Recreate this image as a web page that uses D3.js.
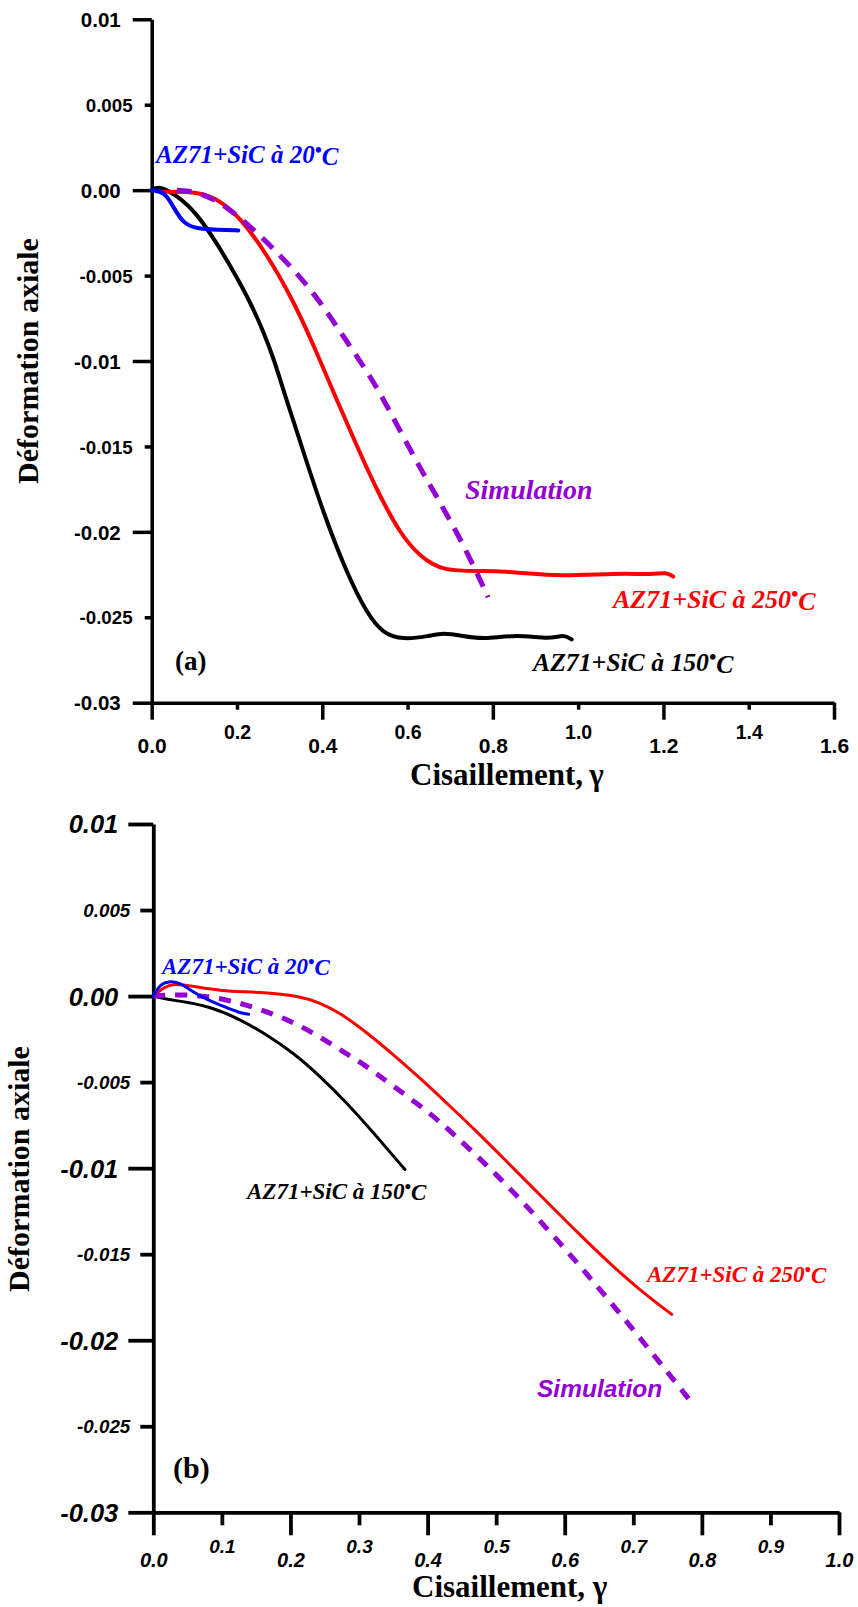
<!DOCTYPE html>
<html>
<head>
<meta charset="utf-8">
<script src="https://cdn.jsdelivr.net/npm/d3@7"></script>
<style>
  html, body { margin: 0; padding: 0; background: #fff; }
  svg { display: block; }
</style>
</head>
<body>
<svg id="chart" width="858" height="1607"></svg>
<script>
// ---------------- DATA ----------------
// Panel (a): x = Cisaillement (gamma), y = Déformation axiale
const aXTicks = [0, 0.2, 0.4, 0.6, 0.8, 1.0, 1.2, 1.4, 1.6];
const aYTicks = [0.01, 0.005, 0, -0.005, -0.01, -0.015, -0.02, -0.025, -0.03];
const aYLabels = ["0.01", "0.005", "0.00", "-0.005", "-0.01", "-0.015", "-0.02", "-0.025", "-0.03"];

const a20 = [[0,0],[0.031,-0.0001],[0.051,-0.001],[0.074,-0.00195],[0.105,-0.00226],[0.152,-0.00232],[0.203,-0.00236]];
const a150 = [[0,0],[0.016,0.00027],[0.059,-0.0003],[0.106,-0.00136],[0.153,-0.00312],[0.1906,-0.0047],[0.2293,-0.00646],[0.261,-0.00821],[0.2877,-0.00997],[0.309,-0.01173],[0.3524,-0.01506],[0.4028,-0.01893],[0.4579,-0.02244],[0.5049,-0.02479],[0.5424,-0.02596],[0.5893,-0.02631],[0.65,-0.0261],[0.684,-0.0259],[0.73,-0.0261],[0.777,-0.0263],[0.856,-0.026],[0.934,-0.0263],[0.965,-0.026],[0.985,-0.0263]];
const a250 = [[0.03,-0.0001],[0.113,-0.0001],[0.16,-0.0006],[0.207,-0.0016],[0.2696,-0.00372],[0.332,-0.00646],[0.3852,-0.00938],[0.4345,-0.01231],[0.4825,-0.01506],[0.5283,-0.01758],[0.5822,-0.0201],[0.6291,-0.02145],[0.683,-0.02232],[0.777,-0.02227],[0.856,-0.02236],[0.957,-0.02262],[1.09,-0.02242],[1.176,-0.0225],[1.207,-0.02236],[1.223,-0.02262]];
const aSim = [[0.059,0],[0.113,-0.0001],[0.1758,-0.00094],[0.25,-0.00255],[0.2968,-0.00372],[0.3414,-0.00489],[0.3845,-0.0062],[0.422,-0.00753],[0.4586,-0.0089],[0.4938,-0.0102],[0.5313,-0.01167],[0.582,-0.01407],[0.637,-0.0166],[0.66,-0.01758],[0.731,-0.0207],[0.789,-0.02383]];

// Panel (b)
const bXTicks = [0, 0.1, 0.2, 0.3, 0.4, 0.5, 0.6, 0.7, 0.8, 0.9, 1.0];
const bYTicks = [0.01, 0.005, 0, -0.005, -0.01, -0.015, -0.02, -0.025, -0.03];
const bYLabels = ["0.01", "0.005", "0.00", "-0.005", "-0.01", "-0.015", "-0.02", "-0.025", "-0.03"];

const b20 = [[0,0],[0.01,0.00068],[0.022,0.00087],[0.039,0.00078],[0.058,0.00023],[0.078,-0.0002],[0.107,-0.00068],[0.126,-0.00097],[0.139,-0.00106]];
const b150 = [[0,0],[0.0195,-0.00019],[0.049,-0.00035],[0.0875,-0.00068],[0.126,-0.00135],[0.165,-0.00223],[0.204,-0.00329],[0.243,-0.00465],[0.282,-0.0062],[0.321,-0.00794],[0.367,-0.01008]];
const b250 = [[0,0],[0.015,0.00049],[0.029,0.00074],[0.058,0.00058],[0.097,0.00029],[0.156,0.00023],[0.214,0],[0.243,-0.00039],[0.272,-0.00097],[0.311,-0.0021],[0.35,-0.0034],[0.39,-0.0048],[0.43,-0.0063],[0.47,-0.0078],[0.51,-0.0094],[0.56,-0.0114],[0.62,-0.0138],[0.67,-0.0157],[0.71,-0.0171],[0.756,-0.0185]];
const bSim = [[0,0],[0.039,0.0001],[0.078,0],[0.117,-0.0003],[0.156,-0.00077],[0.195,-0.00135],[0.233,-0.00213],[0.272,-0.0031],[0.311,-0.00407],[0.35,-0.00523],[0.4035,-0.0068],[0.4375,-0.008],[0.491,-0.01],[0.54,-0.012],[0.593,-0.01435],[0.642,-0.0166],[0.69,-0.0189],[0.739,-0.02131],[0.7875,-0.02374]];

// ---------------- DRAW ----------------
const svg = d3.select("#chart");
const SANS = "'Liberation Sans', Arial, sans-serif";
const SERIF = "'Liberation Serif', 'Times New Roman', Times, serif";

function isMajorY(v) { return Math.abs(Math.round(v * 100) - v * 100) < 1e-6; }

function panel(cfg) {
  const x = d3.scaleLinear().domain(cfg.xDomain).range(cfg.xRange);
  const y = d3.scaleLinear().domain([-0.03, 0.01]).range(cfg.yRange);
  const g = svg.append("g");

  // Y axis
  const yAxis = d3.axisLeft(y).tickValues(cfg.yTicks).tickSizeOuter(0)
    .tickFormat((d, i) => cfg.yLabels[i]);
  const gy = g.append("g").attr("transform", `translate(${x(0)},0)`).call(yAxis);
  gy.select(".domain").attr("stroke", "#000").attr("stroke-width", cfg.axisW);
  gy.selectAll(".tick").each(function(d) {
    const maj = isMajorY(d);
    const t = d3.select(this);
    const len = maj ? cfg.yMajLen : cfg.yMinLen;
    t.select("line").attr("x2", -len).attr("stroke", "#000").attr("stroke-width", cfg.axisW);
    t.select("text").attr("x", -(len + cfg.yPad))
      .attr("dy", "0.35em")
      .style("font-family", SANS).style("font-weight", "bold")
      .style("font-style", cfg.italic ? "italic" : "normal")
      .style("font-size", (maj ? cfg.yMajFont : cfg.yMinFont) + "px")
      .attr("fill", "#000");
  });

  // X axis
  const xAxis = d3.axisBottom(x).tickValues(cfg.xTicks).tickSizeOuter(0)
    .tickFormat(d3.format(".1f"));
  const gx = g.append("g").attr("transform", `translate(0,${y(-0.03)})`).call(xAxis);
  gx.select(".domain").attr("stroke", "#000").attr("stroke-width", cfg.axisW);
  gx.selectAll(".tick").each(function(d, i) {
    const maj = i % 2 === 0;
    const t = d3.select(this);
    t.select("line").attr("y2", maj ? cfg.xMajLen : cfg.xMinLen)
      .attr("stroke", "#000").attr("stroke-width", cfg.axisW);
    t.select("text").attr("y", maj ? cfg.xMajLabY : cfg.xMinLabY).attr("dy", "0.35em")
      .style("font-family", SANS).style("font-weight", "bold")
      .style("font-style", cfg.italic ? "italic" : "normal")
      .style("font-size", (maj ? cfg.xMajFont : cfg.xMinFont) + "px")
      .attr("fill", "#000");
  });

  // Curves
  const line = d3.line().x(d => x(d[0])).y(d => y(d[1])).curve(d3.curveBasis);
  cfg.series.forEach(s => {
    g.append("path").datum(s.data)
      .attr("d", line)
      .attr("fill", "none")
      .attr("stroke", s.color)
      .attr("stroke-width", s.width)
      .attr("stroke-dasharray", s.dash || null)
      .attr("stroke-linejoin", "round")
      .attr("stroke-linecap", s.dash ? "butt" : "round");
  });

  // Axis titles
  g.append("text")
    .attr("transform", `translate(${cfg.yTitleX},${cfg.yTitleY}) rotate(-90)`)
    .attr("text-anchor", "middle")
    .style("font-family", SERIF).style("font-weight", "bold").style("font-size", "30px")
    .text("Déformation axiale");
  g.append("text")
    .attr("x", cfg.xTitleX).attr("y", cfg.xTitleY)
    .style("font-family", SERIF).style("font-weight", "bold").style("font-size", "31px")
    .text(cfg.xTitle);

  // Annotations
  cfg.labels.forEach(l => {
    const t = g.append("text").attr("x", l.x).attr("y", l.y)
      .attr("fill", l.color)
      .style("font-family", l.font || SERIF)
      .style("font-weight", "bold")
      .style("font-style", l.italic === false ? "normal" : "italic")
      .style("font-size", l.size + "px");
    if (l.deg) {
      t.append("tspan").text(l.text);
      t.append("tspan").attr("dy", "-0.32em").style("font-size", (l.size * 0.8) + "px").text("•");
      t.append("tspan").attr("dy", "0.32em").text("C");
    } else {
      t.text(l.text);
    }
  });
}

panel({
  xDomain: [0, 1.6], xRange: [151.7, 834],
  yRange: [702.7, 19.3],
  xTicks: aXTicks, yTicks: aYTicks, yLabels: aYLabels,
  axisW: 3.5, italic: false,
  yMajLen: 19, yMinLen: 7, yPad: 12, yMajFont: 20.5, yMinFont: 18.8,
  xMajLen: 17, xMinLen: 7, xMajLabY: 42.5, xMinLabY: 29.5, xMajFont: 21, xMinFont: 19.5,
  yTitleX: 38, yTitleY: 361,
  xTitle: "Cisaillement,\u2009γ", xTitleX: 410, xTitleY: 785,
  series: [
    { data: a150, color: "#000000", width: 4 },
    { data: a250, color: "#FF0000", width: 4 },
    { data: aSim, color: "#9400D3", width: 5, dash: "15,10" },
    { data: a20, color: "#0000FF", width: 4 }
  ],
  labels: [
    { text: "AZ71+SiC à 20", deg: true, x: 156, y: 163, size: 25, color: "#0000FF" },
    { text: "Simulation", x: 465, y: 499, size: 28, color: "#9400D3" },
    { text: "AZ71+SiC à 250", deg: true, x: 613, y: 608, size: 26, color: "#FF0000" },
    { text: "AZ71+SiC à 150", deg: true, x: 533, y: 671, size: 25.7, color: "#000000" },
    { text: "(a)", x: 175, y: 670, size: 27, color: "#000000", italic: false }
  ]
});

panel({
  xDomain: [0, 1.0], xRange: [153.3, 839],
  yRange: [1512.3, 824],
  xTicks: bXTicks, yTicks: bYTicks, yLabels: bYLabels,
  axisW: 3.8, italic: true,
  yMajLen: 25, yMinLen: 13, yPad: 10, yMajFont: 25.5, yMinFont: 18.8,
  xMajLen: 23, xMinLen: 13, xMajLabY: 47.5, xMinLabY: 34.5, xMajFont: 20, xMinFont: 19,
  yTitleX: 29, yTitleY: 1169,
  xTitle: "Cisaillement, γ", xTitleX: 412, xTitleY: 1597,
  series: [
    { data: b150, color: "#000000", width: 3 },
    { data: b250, color: "#FF0000", width: 3 },
    { data: bSim, color: "#9400D3", width: 5, dash: "12,10" },
    { data: b20, color: "#0000FF", width: 3 }
  ],
  labels: [
    { text: "AZ71+SiC à 20", deg: true, x: 162, y: 974, size: 23, color: "#0000FF" },
    { text: "AZ71+SiC à 150", deg: true, x: 247, y: 1199, size: 23, color: "#000000" },
    { text: "AZ71+SiC à 250", deg: true, x: 647, y: 1282, size: 23, color: "#FF0000" },
    { text: "Simulation", x: 537, y: 1397, size: 24.5, color: "#9400D3", font: SANS },
    { text: "(b)", x: 173, y: 1478, size: 30, color: "#000000", italic: false }
  ]
});
</script>
</body>
</html>
